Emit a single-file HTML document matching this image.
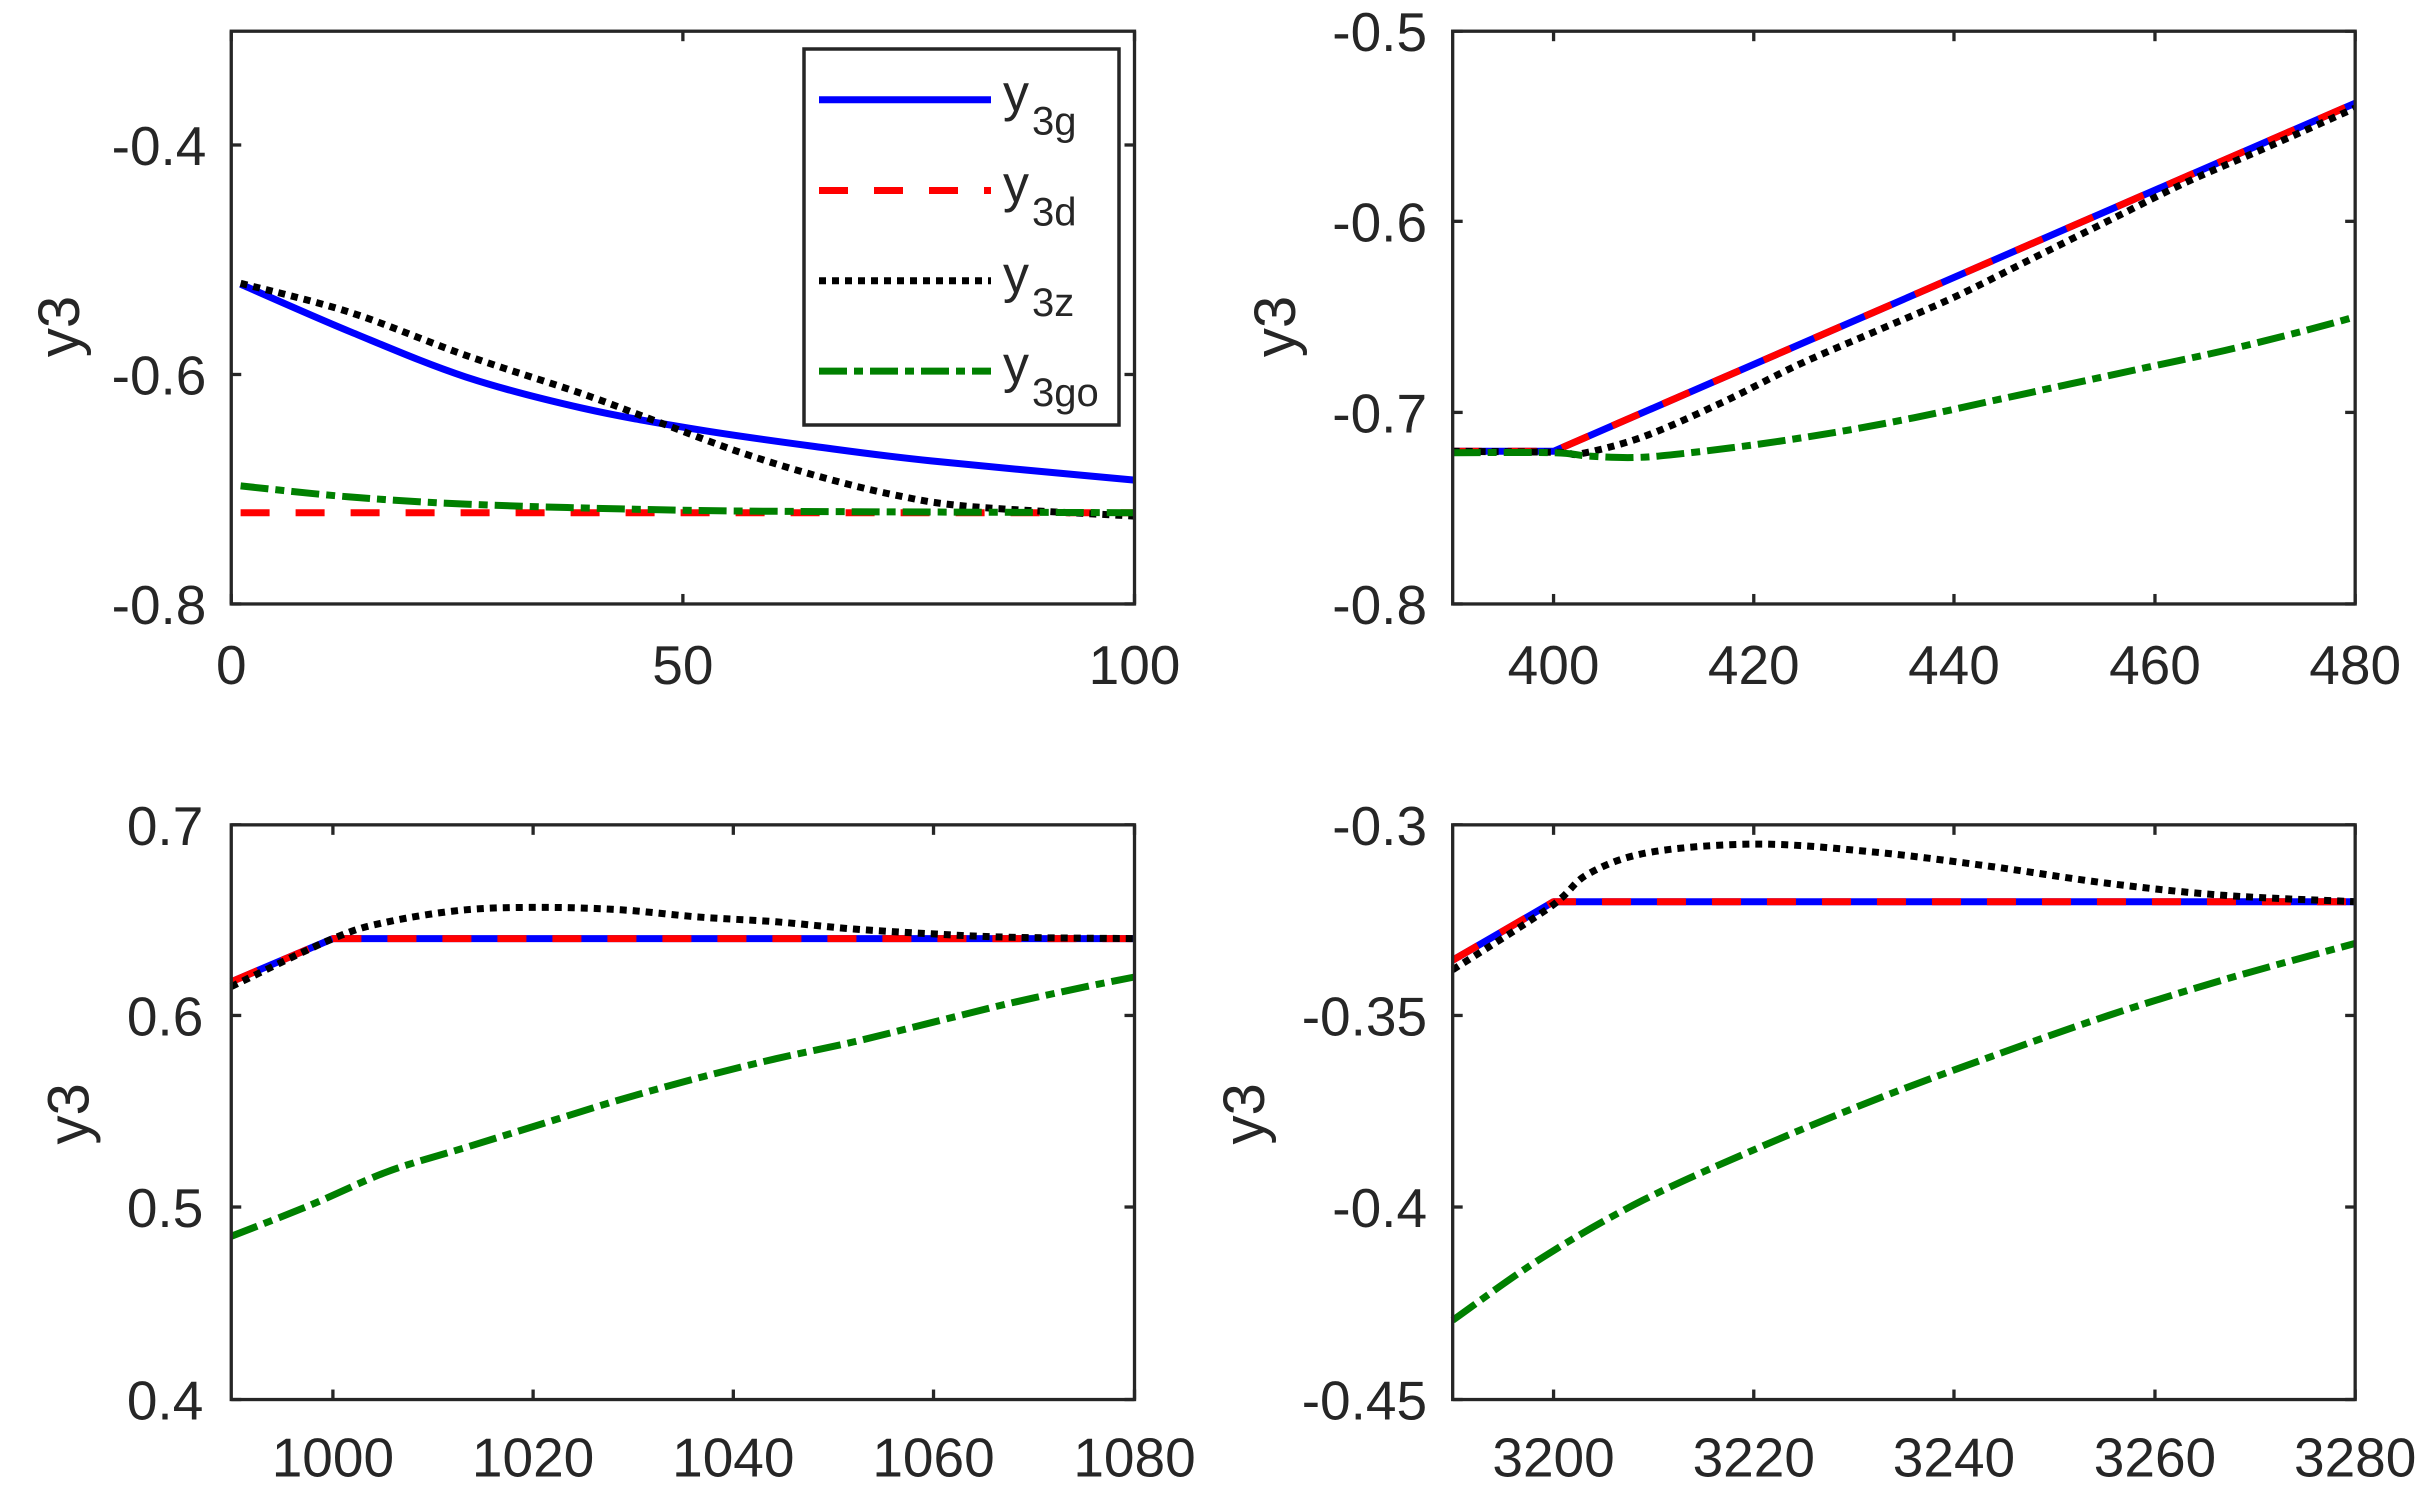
<!DOCTYPE html>
<html><head><meta charset="utf-8">
<style>
html,body{margin:0;padding:0;background:#fff;}
svg{display:block;}
text{font-family:"Liberation Sans",Arial,sans-serif;fill:#262626;}
</style></head>
<body>
<svg id="s" xmlns="http://www.w3.org/2000/svg" width="2433" height="1498" viewBox="0 0 2433 1498"></svg>
<script>
var kx=0.776, ky=0.4801;
var NS="http://www.w3.org/2000/svg";
var svg=document.getElementById('s');
function el(n,a,p){var e=document.createElementNS(NS,n);for(var k in a)e.setAttribute(k,a[k]);(p||svg).appendChild(e);return e;}
function path(pts,smooth){
  if(!smooth||pts.length<3){return 'M'+pts.map(function(p){return p[0].toFixed(1)+','+p[1].toFixed(1)}).join(' L');}
  var d='M'+pts[0][0].toFixed(1)+','+pts[0][1].toFixed(1);
  for(var i=0;i<pts.length-1;i++){
    var p0=pts[i-1]||pts[i],p1=pts[i],p2=pts[i+1],p3=pts[i+2]||p2;
    var c1=[p1[0]+(p2[0]-p0[0])/6,p1[1]+(p2[1]-p0[1])/6];
    var c2=[p2[0]-(p3[0]-p1[0])/6,p2[1]-(p3[1]-p1[1])/6];
    d+=' C'+c1[0].toFixed(1)+','+c1[1].toFixed(1)+' '+c2[0].toFixed(1)+','+c2[1].toFixed(1)+' '+p2[0].toFixed(1)+','+p2[1].toFixed(1);
  }
  return d;
}
var styles={
 b:{stroke:'#0000ff','stroke-width':7},
 r:{stroke:'#ff0000','stroke-width':7,'stroke-dasharray':'29,26'},
 k:{stroke:'#000000','stroke-width':7,'stroke-dasharray':'7,6'},
 g:{stroke:'#008000','stroke-width':7,'stroke-dasharray':'28,7,9,7'}
};
function series(ox,oy,pts,st,smooth){
  var P=pts.map(function(p){return [ox+p[0]*kx, oy+p[1]*ky];});
  var a={d:path(P,smooth),fill:'none','stroke-linejoin':'round'};
  for(var k in styles[st])a[k]=styles[st][k];
  el('path',a);
}
function axes(q){
  var ox=q.ox,oy=q.oy;
  var x0=ox+q.ax[0]*kx,x1=ox+q.ax[1]*kx,y0=oy+q.ay[0]*ky,y1=oy+q.ay[1]*ky;
  q.series.forEach(function(s){series(ox,oy,s[1],s[0],s[2]);});
  el('rect',{x:x0,y:y0,width:x1-x0,height:y1-y0,fill:'none',stroke:'#262626','stroke-width':3.3});
  q.xt.forEach(function(t){var x=ox+t[0]*kx;
    el('line',{x1:x,x2:x,y1:y1,y2:y1-10,stroke:'#262626','stroke-width':3.3});
    el('line',{x1:x,x2:x,y1:y0,y2:y0+10,stroke:'#262626','stroke-width':3.3});
    var tx=el('text',{x:x,y:oy+q.xb*ky,'text-anchor':'middle','font-size':55});tx.textContent=t[1];});
  q.yt.forEach(function(t){var y=oy+t[0]*ky;
    el('line',{x1:x0,x2:x0+10,y1:y,y2:y,stroke:'#262626','stroke-width':3.3});
    el('line',{x1:x1,x2:x1-10,y1:y,y2:y,stroke:'#262626','stroke-width':3.3});
    var tx=el('text',{x:ox+q.yr*kx,y:y+20,'text-anchor':'end','font-size':55});tx.textContent=t[1];});
  var lx=ox+q.yl[0]*kx,ly=oy+q.yl[1]*ky;
  var t=el('text',{x:lx,y:ly,'text-anchor':'middle','font-size':58,transform:'rotate(-90 '+lx+' '+ly+')'});t.textContent='y3';
}
var Q=[
{ox:0,oy:0,ax:[298,1462],ay:[65,1258],xb:1425,yr:266,yl:[102,680],
 xt:[[298,'0'],[880,'50'],[1462,'100']],yt:[[302,'-0.4'],[780,'-0.6'],[1258,'-0.8']],
 series:[
  ['b',[[310,592],[450,690],[600,785],[750,850],[900,895],[1050,930],[1200,960],[1462,1000]],1],
  ['r',[[310,1068],[1462,1068]],0],
  ['k',[[310,590],[450,650],[600,740],[750,820],[850,880],[950,940],[1050,990],[1150,1030],[1250,1055],[1462,1075]],1],
  ['g',[[310,1012],[450,1035],[600,1050],[800,1060],[1000,1065],[1462,1068]],1]]},
{ox:1216,oy:0,ax:[305,1468],ay:[65,1258],xb:1425,yr:272,yl:[102,680],
 xt:[[435,'400'],[693,'420'],[951,'440'],[1210,'460'],[1468,'480']],yt:[[65,'-0.5'],[461,'-0.6'],[859,'-0.7'],[1258,'-0.8']],
 series:[
  ['b',[[305,940],[435,940],[1468,215]],0],
  ['r',[[305,940],[435,940],[1468,215]],0],
  ['k',[[305,940],[440,942],[470,945],[550,910],[650,840],[750,760],[850,690],[950,620],[1050,540],[1150,460],[1250,380],[1350,310],[1468,225]],1],
  ['g',[[305,943],[435,943],[480,950],[540,953],[600,945],[700,925],[800,900],[900,870],[1000,835],[1100,800],[1200,765],[1300,730],[1400,690],[1468,660]],1]]},
{ox:0,oy:749,ax:[298,1462],ay:[158,1355],xb:1515,yr:262,yl:[114,760],
 xt:[[429,'1000'],[687,'1020'],[945,'1040'],[1203,'1060'],[1462,'1080']],yt:[[158,'0.7'],[555,'0.6'],[954,'0.5'],[1355,'0.4']],
 series:[
  ['b',[[298,485],[429,395],[1462,395]],0],
  ['r',[[298,485],[429,395],[1462,395]],0],
  ['k',[[298,495],[429,395],[500,360],[600,335],[700,330],[800,335],[900,350],[1000,360],[1100,375],[1200,385],[1300,392],[1462,395]],1],
  ['g',[[298,1015],[400,950],[500,880],[600,830],[700,780],[800,730],[900,685],[1000,645],[1100,610],[1200,570],[1300,530],[1400,495],[1462,475]],1]]},
{ox:1216,oy:749,ax:[305,1468],ay:[158,1355],xb:1515,yr:272,yl:[62,760],
 xt:[[435,'3200'],[693,'3220'],[951,'3240'],[1210,'3260'],[1468,'3280']],yt:[[158,'-0.3'],[555,'-0.35'],[954,'-0.4'],[1355,'-0.45']],
 series:[
  ['b',[[305,440],[435,318],[1468,318]],0],
  ['r',[[305,440],[435,318],[1468,318]],0],
  ['k',[[305,460],[430,330],[480,260],[560,215],[700,198],[850,215],[1000,245],[1150,280],[1300,305],[1468,318]],1],
  ['g',[[305,1190],[420,1060],[550,940],[700,830],[850,730],[1000,640],[1150,555],[1300,480],[1468,405]],1]]}
];
Q.forEach(axes);
el('rect',{x:804,y:49,width:315,height:376,fill:'#fff',stroke:'#262626','stroke-width':3.5});
var L=[['b','3g',99.7],['r','3d',190.5],['k','3z',280.8],['g','3go',371.1]];
L.forEach(function(l){
  var a={x1:819,x2:991,y1:l[2],y2:l[2]};for(var k in styles[l[0]])a[k]=styles[l[0]][k];el('line',a);
  var t=el('text',{x:1003,y:l[2]+11,'font-size':52});t.textContent='y';
  var s=el('text',{x:1032,y:l[2]+35,'font-size':40});s.textContent=l[1];
});
</script>
</body></html>
